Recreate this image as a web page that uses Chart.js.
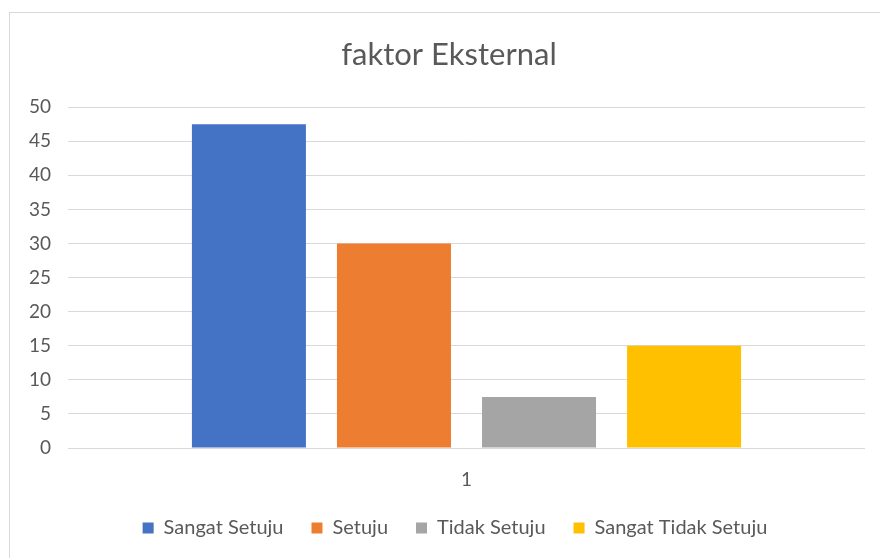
<!DOCTYPE html>
<html>
<head>
<meta charset="utf-8">
<script src="https://cdn.jsdelivr.net/npm/chart.js@4"></script>
<style>
  html, body { margin: 0; padding: 0; background: #fff; overflow: hidden; }
  #wrap { position: absolute; left: 0; top: 0; width: 880px; height: 558px; }
  #frame { position: absolute; left: 9px; top: 12px; width: 900px; height: 600px; border: 1px solid #d9d9d9; box-sizing: border-box; }
  canvas { position: absolute; left: 0; top: 0; }
</style>
</head>
<body>
<div id="wrap">
  <div id="frame"></div>
  <canvas id="c" width="880" height="558"></canvas>
</div>
<script>
const categories = ["1"];
const seriesNames = ["Sangat Setuju", "Setuju", "Tidak Setuju", "Sangat Tidak Setuju"];
const sangatSetuju = [47.5];
const setuju = [30];
const tidakSetuju = [7.5];
const sangatTidakSetuju = [15];
const seriesColors = ["#4472C4", "#ED7D31", "#A5A5A5", "#FFC000"];
const yTicks = [0, 5, 10, 15, 20, 25, 30, 35, 40, 45, 50];
const titleText = "faktor Eksternal";

const values = [sangatSetuju, setuju, tidakSetuju, sangatTidakSetuju];
const FONT = "Lato, 'Liberation Sans', sans-serif";
const TXT = "#595959";

// The original chart frame extends past the right edge of the picture,
// so the title and legend are centred on that wider frame.
const recentre = {
  id: "recentre",
  afterLayout(chart) {
    if (chart.titleBlock) { chart.titleBlock.left = 18; chart.titleBlock.right = 880; }
    if (chart.legend) { chart.legend.left = 24; chart.legend.right = 886; }
  }
};

new Chart(document.getElementById("c"), {
  type: "bar",
  data: {
    labels: categories,
    datasets: seriesNames.map((n, i) => ({
      label: n,
      data: values[i],
      backgroundColor: seriesColors[i],
      borderWidth: 0,
      categoryPercentage: 0.728,
      barPercentage: 0.786
    }))
  },
  plugins: [recentre],
  options: {
    responsive: false,
    animation: false,
    devicePixelRatio: 1,
    layout: { padding: { left: 0, right: 15, top: 0, bottom: 10 } },
    plugins: {
      tooltip: { enabled: false },
      title: {
        display: true,
        text: titleText,
        color: TXT,
        font: { family: FONT, size: 31, weight: "normal" },
        padding: { top: 36, bottom: 34 }
      },
      legend: {
        position: "bottom",
        labels: {
          color: TXT,
          font: { family: FONT, size: 20 },
          boxWidth: 11,
          boxHeight: 11,
          padding: 28
        }
      }
    },
    scales: {
      x: {
        afterFit: (s) => { s.height = 42; },
        grid: { display: false },
        border: { display: false },
        ticks: { color: TXT, font: { family: FONT, size: 19 }, padding: 12 }
      },
      y: {
        min: 0,
        max: 50,
        afterBuildTicks: (s) => { s.ticks = yTicks.map(v => ({ value: v })); },
        afterFit: (s) => { s.width = 68; },
        grid: { color: "#d9d9d9", lineWidth: 1, drawTicks: false },
        border: { display: false },
        ticks: { color: TXT, font: { family: FONT, size: 19 }, padding: 17 }
      }
    }
  }
});
</script>
</body>
</html>
